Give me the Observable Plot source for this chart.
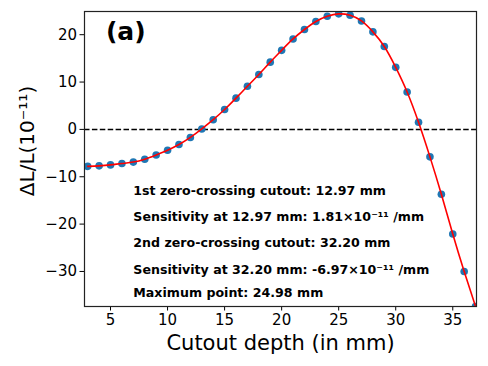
<!DOCTYPE html>
<html>
<head>
<meta charset="utf-8">
<script src="https://cdn.jsdelivr.net/npm/d3@7"></script>
<script src="https://cdn.jsdelivr.net/npm/@observablehq/plot@0.6"></script>
<style>
  html, body { margin: 0; padding: 0; background: #fff; }
  #chart svg { display: block; }
</style>
</head>
<body>
<div id="chart"></div>
<script>
// Cutout depth (mm)
const depth = [3,4,5,6,7,8,9,10,11,12,13,14,15,16,17,18,19,20,21,22,23,24,25,26,27,28,29,30,31,32,33,34,35,36,37];
// ΔL/L (10^-11)
const deltaL = [-7.8,-7.7,-7.5,-7.2,-6.9,-6.3,-5.4,-4.4,-3.2,-1.7,0.1,2.05,4.2,6.6,9.1,11.6,14.2,16.7,19.1,21.1,22.8,23.9,24.4,24.1,22.9,20.6,17.5,13.1,7.9,1.5,-5.8,-13.7,-22.1,-30.0,-37.4];

const xTicks = [5,10,15,20,25,30,35];
const yTicks = [-30,-20,-10,0,10,20];
const xDomain = [2.72, 37.08];
const yDomain = [-37.4, 24.9];

const noteLines = [
  "1st zero-crossing cutout: 12.97 mm",
  "Sensitivity at 12.97 mm: 1.81×10⁻¹¹ /mm",
  "2nd zero-crossing cutout: 32.20 mm",
  "Sensitivity at 32.20 mm: -6.97×10⁻¹¹ /mm",
  "Maximum point: 24.98 mm"
];
const noteX = [7, 7, 7, 7, 7];
const noteY = [-13.0, -18.5, -24.0, -29.7, -34.6];

const panelLabel = "(a)";
const panelX = [4.6];
const panelY = [20.5];

const xLabel = "Cutout depth (in mm)";
const yLabel = "ΔL/L(10⁻¹¹)";

const data = depth.map((d, i) => ({x: d, y: deltaL[i]}));
const notes = noteLines.map((t, i) => ({t, x: noteX[i], y: noteY[i]}));

const chart = Plot.plot({
  width: 488,
  height: 366,
  marginLeft: 84,
  marginRight: 12,
  marginTop: 11,
  marginBottom: 60,
  style: {fontFamily: "DejaVu Sans", fontSize: "15px", color: "#000", background: "#fff"},
  x: {domain: xDomain},
  y: {domain: yDomain},
  marks: [
    Plot.ruleY([0], {stroke: "#000", strokeWidth: 1.5, strokeDasharray: "5.5,2.4"}),
    Plot.dot(data, {x: "x", y: "y", r: 3.8, fill: "#1f77b4", stroke: "none", clip: true}),
    Plot.line(data, {x: "x", y: "y", stroke: "#ff0000", strokeWidth: 1.6, curve: "natural", clip: true}),
    Plot.text(notes, {x: "x", y: "y", text: "t", textAnchor: "start", lineAnchor: "middle", fontWeight: "bold", fontSize: 12.6, fill: "#000"}),
    Plot.text([panelLabel], {x: panelX, y: panelY, textAnchor: "start", lineAnchor: "middle", fontWeight: "bold", fontSize: 25, fill: "#000"}),
    Plot.axisX({ticks: xTicks, tickSize: 4.5, tickPadding: 3, label: null, fontSize: 15, stroke: "#000"}),
    Plot.axisY({ticks: yTicks, tickSize: 4.5, tickPadding: 3, label: null, fontSize: 15, stroke: "#000", tickFormat: d => d < 0 ? "\u2212" + Math.abs(d) : String(d)}),
    Plot.text([xLabel], {frameAnchor: "bottom", textAnchor: "middle", lineAnchor: "middle", dy: 37, fontSize: 21, fill: "#000"}),
    Plot.text([yLabel], {frameAnchor: "left", textAnchor: "middle", lineAnchor: "middle", rotate: -90, dx: -57, dy: -18, fontSize: 20, fill: "#000"}),
    Plot.frame({stroke: "#222", strokeWidth: 1.2})
  ]
});
document.getElementById("chart").appendChild(chart);
</script>
</body>
</html>
